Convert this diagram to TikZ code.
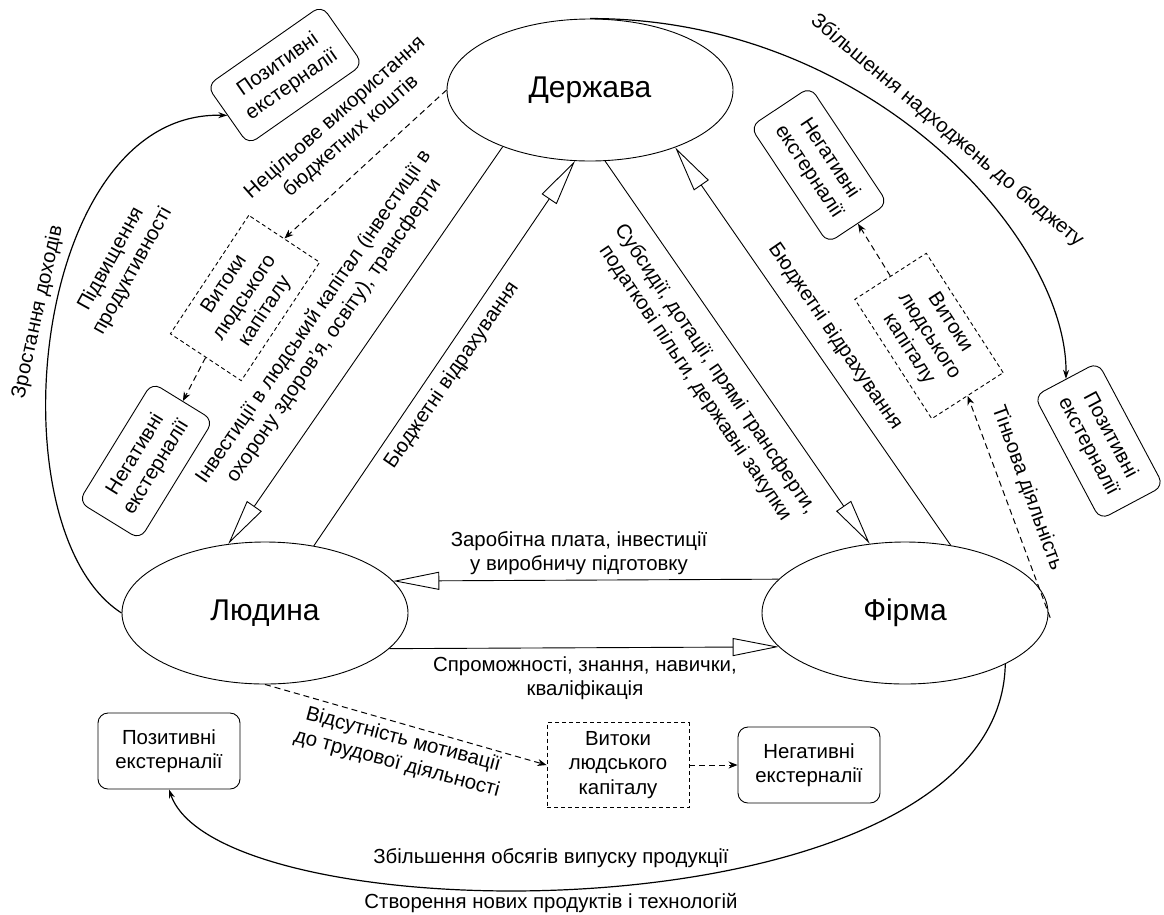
\documentclass[tikz,border=0pt]{standalone}
\usepackage{fontspec}
\setmainfont{Liberation Sans}
\usetikzlibrary{arrows.meta,shapes.geometric}
\begin{document}
\begin{tikzpicture}[x=1pt,y=-1pt,
  lbl/.style={font=\fontsize{20.4}{24.5}\selectfont, align=center, inner sep=0pt},
  agent/.style={draw, ellipse, line width=0.9pt, minimum width=286pt, minimum height=142pt, inner sep=0pt, font=\fontsize{30}{36}\selectfont},
  extbox/.style={draw, rounded corners=10pt, line width=0.9pt, minimum width=142pt, minimum height=76pt, align=center, inner sep=0pt, font=\fontsize{20.4}{24.5}\selectfont},
  rextbox/.style={extbox, minimum width=140pt, minimum height=72pt},
  leakbox/.style={draw, dash pattern=on 4pt off 3pt, line width=0.9pt, minimum width=142pt, minimum height=85pt, align=center, inner sep=0pt, font=\fontsize{20.4}{24.5}\selectfont},
  flow/.style={line width=0.9pt, -{Triangle[open,length=46pt,width=18pt]}},
  dflow/.style={line width=1pt, dash pattern=on 6pt off 4pt, -{Stealth[length=9pt,width=7pt]}},
  curve/.style={line width=1.2pt, -{Stealth[length=9pt,width=6pt]}}
]
\useasboundingbox (0,0) rectangle (1164,914);
% agents
\node[agent] (derzh) at (590,90) {Держава};
\node[agent] (lyud) at (265,613) {Людина};
\node[agent] (firm) at (905,613) {Фірма};
% boxes
\node[rextbox, rotate=35] (posTL) at (285,75) {Позитивні\\екстерналії};
\node[leakbox, rotate=56.5] (vitL) at (245,298) {Витоки\\людського\\капіталу};
\node[rextbox, rotate=58.4] (negL) at (146,461) {Негативні\\екстерналії};
\node[rextbox, rotate=-56.4] (negTR) at (819,165) {Негативні\\екстерналії};
\node[leakbox, rotate=-57.2] (vitR) at (929,336) {Витоки\\людського\\капіталу};
\node[rextbox, rotate=-62] (posR) at (1099,441) {Позитивні\\екстерналії};
\node[extbox] (posB) at (169,751) {Позитивні\\екстерналії};
\node[leakbox] (vitB) at (618,765) {Витоки\\людського\\капіталу};
\node[extbox] (negB) at (809,765) {Негативні\\екстерналії};
% main flows
\draw[flow] (derzh.213.4) -- (lyud.118.2);
\draw[flow] (lyud.54.8) -- (derzh.258.2);
\draw[flow] (derzh.282.5) -- (firm.117.9);
\draw[flow] (firm.56.5) -- (derzh.326.3);
\draw[flow] (firm.165.4) -- (lyud.14.6);
\draw[flow] (lyud.344.8) -- (firm.195.2);
% dashed flows
\draw[dflow] (derzh.west) -- (vitL.east);
\draw[dflow] (vitL.west) -- (negL.east);
\draw[dflow, shorten <=-5pt] (firm.east) -- (vitR.east);
\draw[dflow] (vitR.west) -- (negTR.east);
\draw[dflow] (lyud.south) -- (vitB.west);
\draw[dflow] (vitB.east) -- (negB.west);
% curves
\draw[curve] (derzh.north) .. controls (872,18) and (1068,240) .. (posR.west);
\draw[curve] (lyud.west) .. controls (-8,530) and (30,110) .. (posTL.west);
\draw[curve] (firm.333.9) .. controls (1000,942) and (220,938) .. (posB.south);
% labels
\node[lbl, rotate=77.5] (lZd) at (38,312) {Зростання доходів};
\node[lbl, rotate=61] (lPp) at (122,265) {Підвищення\\продуктивності};
\node[lbl, rotate=41.5] (lNv) at (343,127) {Нецільове використання\\бюджетних коштів};
\node[lbl, rotate=55.5] (lInv) at (324,324) {Інвестиції в людський капітал (інвестиції в\\охорону здоров'я, освіту), трансферти};
\node[lbl, rotate=55.5] (lBv1) at (452,375) {Бюджетні відрахування};
\node[lbl, rotate=-56] (lSub) at (705,376) {Субсидії, дотації, прямі трансферти,\\податкові пільги, державні закупки};
\node[lbl, rotate=-55.5] (lBv2) at (835,337) {Бюджетні відрахування};
\node[lbl, rotate=-40] (lZn) at (947,131) {Збільшення надходжень до бюджету};
\node[lbl, rotate=-70] (lTd) at (1027,488) {Тіньова діяльність};
\node[lbl] (lZp) at (579,553) {Заробітна плата, інвестиції\\у виробничу підготовку};
\node[lbl] (lSp) at (585,678) {Спроможності, знання, навички,\\кваліфікація};
\node[lbl, rotate=-15] (lVm) at (400,752) {Відсутність мотивації\\до трудової діяльності};
\node[lbl] (lZo) at (551,858) {Збільшення обсягів випуску продукції};
\node[lbl] (lSn) at (551,903) {Створення нових продуктів і технологій};
\end{tikzpicture}
\end{document}
